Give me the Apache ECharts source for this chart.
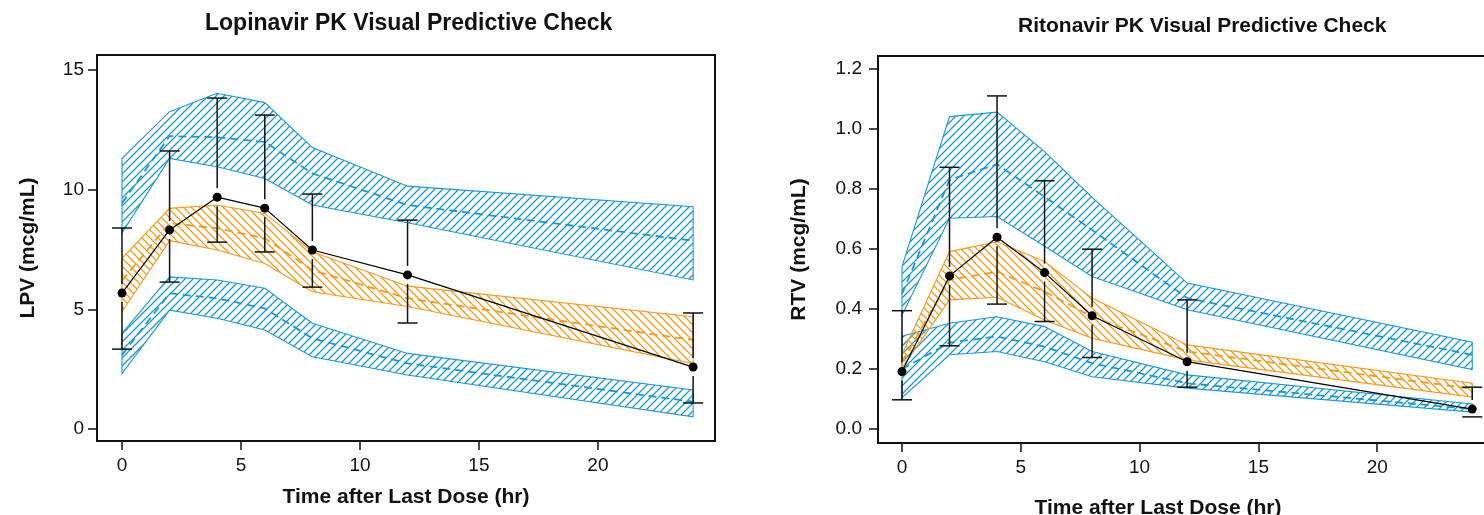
<!DOCTYPE html>
<html>
<head>
<meta charset="utf-8">
<script src="https://cdn.jsdelivr.net/npm/echarts@6/dist/echarts.min.js"></script>
<style>
  html, body { margin: 0; padding: 0; background: #fff; }
  #chart { width: 1484px; height: 515px; }
</style>
</head>
<body>
<div id="chart"></div>
<script>
// sampling times (hr)
const times = [0, 2, 4, 6, 8, 12, 24]
const xTicks = [0, 5, 10, 15, 20]
const lpvTicks = [0, 5, 10, 15]
const rtvTicks = [0, 0.2, 0.4, 0.6, 0.8, 1.0, 1.2]

// Lopinavir observed median + observed 5th / 95th
const lpvObs = [5.68, 8.32, 9.69, 9.23, 7.48, 6.44, 2.59]
const lpvObsLo = [3.34, 6.14, 7.81, 7.40, 5.93, 4.43, 1.09]
const lpvObsHi = [8.40, 11.62, 13.83, 13.12, 9.82, 8.73, 4.85]
// Lopinavir simulated percentile bands (top / median / bottom)
const lpvHiTop = [11.31, 13.26, 14.03, 13.64, 11.76, 10.15, 9.29]
const lpvHiMed = [9.44, 12.24, 12.19, 12.00, 10.68, 9.36, 7.87]
const lpvHiBot = [8.20, 11.31, 10.96, 10.47, 9.36, 8.62, 6.23]
const lpvMdTop = [7.13, 9.22, 9.36, 9.01, 7.41, 5.97, 4.69]
const lpvMdMed = [6.20, 8.60, 8.39, 7.97, 6.64, 5.46, 3.72]
const lpvMdBot = [4.90, 7.87, 7.48, 6.92, 5.74, 5.12, 2.74]
const lpvLoTop = [4.00, 6.36, 6.23, 5.88, 4.42, 3.16, 1.63]
const lpvLoMed = [3.10, 5.67, 5.46, 5.04, 3.79, 2.74, 1.14]
const lpvLoBot = [2.32, 4.97, 4.63, 4.14, 3.02, 2.26, 0.51]

// Ritonavir
const rtvObs = [0.192, 0.511, 0.640, 0.522, 0.378, 0.225, 0.067]
const rtvObsLo = [0.098, 0.278, 0.417, 0.359, 0.239, 0.140, 0.041]
const rtvObsHi = [0.395, 0.873, 1.111, 0.828, 0.600, 0.431, 0.140]
const rtvHiTop = [0.542, 1.042, 1.057, 0.925, 0.773, 0.487, 0.290]
const rtvHiMed = [0.450, 0.831, 0.883, 0.775, 0.664, 0.437, 0.248]
const rtvHiBot = [0.380, 0.703, 0.709, 0.610, 0.509, 0.398, 0.199]
const rtvMdTop = [0.250, 0.592, 0.625, 0.559, 0.437, 0.281, 0.153]
const rtvMdMed = [0.225, 0.498, 0.525, 0.459, 0.375, 0.259, 0.135]
const rtvMdBot = [0.205, 0.431, 0.440, 0.364, 0.303, 0.231, 0.107]
const rtvLoTop = [0.310, 0.353, 0.375, 0.342, 0.259, 0.181, 0.084]
const rtvLoMed = [0.200, 0.289, 0.309, 0.275, 0.220, 0.153, 0.067]
const rtvLoBot = [0.105, 0.248, 0.259, 0.225, 0.175, 0.137, 0.057]

const BLUE = '#1a99d6'
const ORANGE = '#f59a1b'
const FONT = '"Liberation Sans", Arial, sans-serif'

// hatch tile, dir 1 = "/" , -1 = "\"
function hatch(color, dir) {
  const s = 8
  const c = document.createElement('canvas')
  c.width = s
  c.height = s
  const g = c.getContext('2d')
  g.strokeStyle = color
  g.lineWidth = 1.3
  g.beginPath()
  if (dir > 0) {
    g.moveTo(-1, s + 1); g.lineTo(s + 1, -1)
    g.moveTo(-1, 1); g.lineTo(1, -1)
    g.moveTo(s - 1, s + 1); g.lineTo(s + 1, s - 1)
  } else {
    g.moveTo(-1, -1); g.lineTo(s + 1, s + 1)
    g.moveTo(s - 1, -1); g.lineTo(s + 1, 1)
    g.moveTo(-1, s - 1); g.lineTo(1, s + 1)
  }
  g.stroke()
  return { image: c, repeat: 'repeat' }
}
const bluePat = hatch(BLUE, 1)
const orangePat = hatch(ORANGE, -1)

const pairs = (ys) => times.map((t, i) => [t, ys[i]])

function band(idx, top, bot, color, pat) {
  return {
    type: 'custom',
    xAxisIndex: idx,
    yAxisIndex: idx,
    clip: true,
    silent: true,
    z: 2,
    data: [[times[0], bot[0]]],
    renderItem: function (params, api) {
      const pts = []
      times.forEach((t, i) => pts.push(api.coord([t, top[i]])))
      for (let i = times.length - 1; i >= 0; i--) pts.push(api.coord([times[i], bot[i]]))
      return {
        type: 'polygon',
        shape: { points: pts },
        style: { fill: pat, stroke: color, lineWidth: 1.1 }
      }
    }
  }
}

function median(idx, ys, color) {
  return {
    type: 'line',
    xAxisIndex: idx,
    yAxisIndex: idx,
    data: pairs(ys),
    symbol: 'none',
    silent: true,
    z: 3,
    lineStyle: { color: color, width: 1.8, type: [8, 5] }
  }
}

function errorBars(idx, obs, lo, hi) {
  return {
    type: 'custom',
    xAxisIndex: idx,
    yAxisIndex: idx,
    silent: true,
    z: 4,
    data: times.map((t, i) => [t, obs[i], lo[i], hi[i]]),
    renderItem: function (params, api) {
      const x = api.value(0)
      const p = api.coord([x, api.value(1)])
      const b = api.coord([x, api.value(2)])
      const h = api.coord([x, api.value(3)])
      const gap = 9, cap = 10
      const st = { stroke: '#111', lineWidth: 1.5 }
      const kids = [
        { type: 'line', shape: { x1: p[0] - cap, y1: h[1], x2: p[0] + cap, y2: h[1] }, style: st },
        { type: 'line', shape: { x1: p[0] - cap, y1: b[1], x2: p[0] + cap, y2: b[1] }, style: st }
      ]
      if (p[1] - gap > h[1]) kids.push({ type: 'line', shape: { x1: p[0], y1: h[1], x2: p[0], y2: p[1] - gap }, style: st })
      if (p[1] + gap < b[1]) kids.push({ type: 'line', shape: { x1: p[0], y1: p[1] + gap, x2: p[0], y2: b[1] }, style: st })
      return { type: 'group', children: kids }
    }
  }
}

function observed(idx, obs) {
  return {
    type: 'line',
    xAxisIndex: idx,
    yAxisIndex: idx,
    data: pairs(obs),
    symbol: 'circle',
    symbolSize: 9,
    silent: true,
    z: 5,
    itemStyle: { color: '#000' },
    lineStyle: { color: '#000', width: 1.2 }
  }
}

function xAxisCfg(idx, min, max, gap, pad) {
  return {
    type: 'value',
    gridIndex: idx,
    min: min,
    max: max,
    name: 'Time after Last Dose (hr)',
    nameLocation: 'middle',
    nameGap: gap,
    nameTextStyle: { fontFamily: FONT, fontSize: 21, fontWeight: 'bold', color: '#111', padding: pad },
    axisLine: { show: false, onZero: false },
    axisTick: { show: true, length: 9, customValues: xTicks, lineStyle: { color: '#111', width: 1.5 } },
    axisLabel: { customValues: xTicks, fontFamily: FONT, fontSize: 19, color: '#111', margin: 15 },
    splitLine: { show: false }
  }
}

function yAxisCfg(idx, name, min, max, ticks, fmt, gap, margin) {
  return {
    type: 'value',
    gridIndex: idx,
    min: min,
    max: max,
    name: name,
    nameLocation: 'middle',
    nameGap: gap,
    nameTextStyle: { fontFamily: FONT, fontSize: 21, fontWeight: 'bold', color: '#111' },
    axisLine: { show: false, onZero: false },
    axisTick: { show: true, length: 9, customValues: ticks, lineStyle: { color: '#111', width: 1.5 } },
    axisLabel: { customValues: ticks, formatter: fmt, fontFamily: FONT, fontSize: 19, color: '#111', margin: margin },
    splitLine: { show: false }
  }
}

const chart = echarts.init(document.getElementById('chart'))
chart.setOption({
  animation: false,
  backgroundColor: '#fff',
  title: [
    { text: 'Lopinavir PK Visual Predictive Check', left: 205, top: 12, padding: 0,
      textStyle: { fontFamily: FONT, fontSize: 23, fontWeight: 'bold', color: '#111' } },
    { text: 'Ritonavir PK Visual Predictive Check', left: 1018, top: 16, padding: 0,
      textStyle: { fontFamily: FONT, fontSize: 21, fontWeight: 'bold', color: '#111' } }
  ],
  grid: [
    { left: 97, top: 55, width: 618, height: 386, show: true, borderColor: '#111', borderWidth: 2,
      outerBoundsMode: 'none' },
    { left: 878, top: 56, width: 618, height: 387, show: true, borderColor: '#111', borderWidth: 2,
      outerBoundsMode: 'none' }
  ],
  xAxis: [xAxisCfg(0, -1.05, 24.92, 46, 0), xAxisCfg(1, -1.01, 25.0, 55, [0, 58, 0, 0])],
  yAxis: [
    yAxisCfg(0, 'LPV (mcg/mL)', -0.5, 15.63, lpvTicks, (v) => String(v), 58, 13),
    yAxisCfg(1, 'RTV (mcg/mL)', -0.046, 1.244, rtvTicks, (v) => v.toFixed(1), 68, 16)
  ],
  series: [
    band(0, lpvHiTop, lpvHiBot, BLUE, bluePat),
    band(0, lpvLoTop, lpvLoBot, BLUE, bluePat),
    band(0, lpvMdTop, lpvMdBot, ORANGE, orangePat),
    median(0, lpvHiMed, BLUE),
    median(0, lpvLoMed, BLUE),
    median(0, lpvMdMed, ORANGE),
    errorBars(0, lpvObs, lpvObsLo, lpvObsHi),
    observed(0, lpvObs),

    band(1, rtvHiTop, rtvHiBot, BLUE, bluePat),
    band(1, rtvLoTop, rtvLoBot, BLUE, bluePat),
    band(1, rtvMdTop, rtvMdBot, ORANGE, orangePat),
    median(1, rtvHiMed, BLUE),
    median(1, rtvLoMed, BLUE),
    median(1, rtvMdMed, ORANGE),
    errorBars(1, rtvObs, rtvObsLo, rtvObsHi),
    observed(1, rtvObs)
  ]
})
window.addEventListener('resize', () => chart.resize())
</script>
</body>
</html>
